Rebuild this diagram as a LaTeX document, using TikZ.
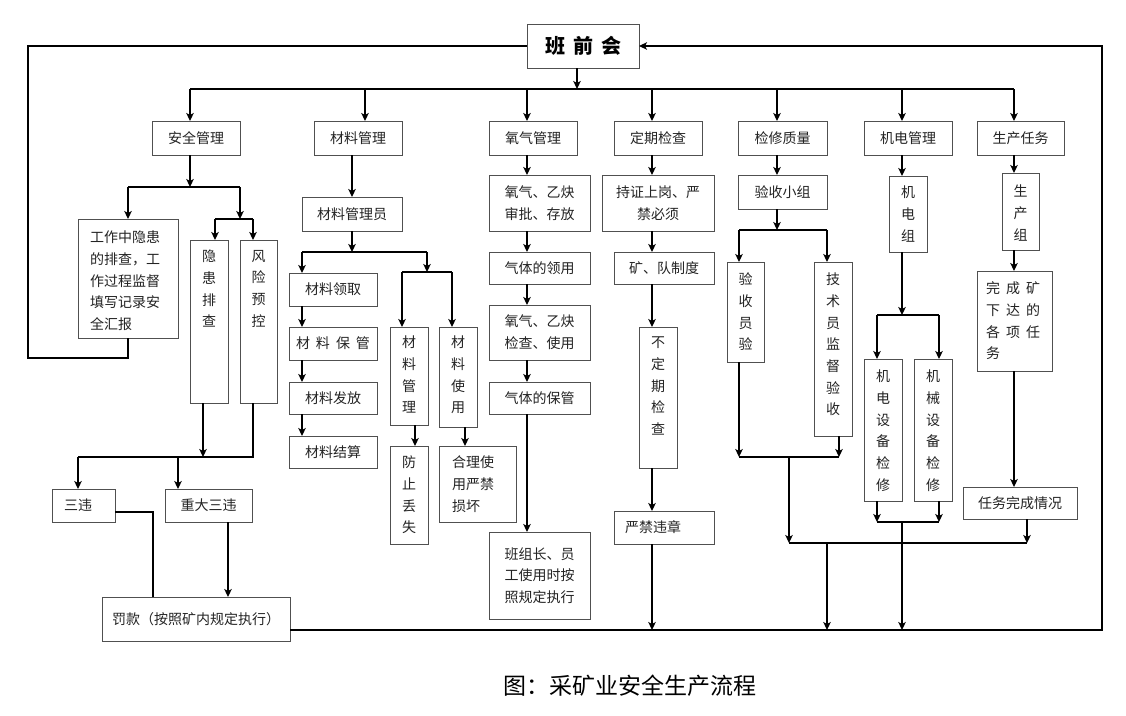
\documentclass[tikz,border=0pt]{standalone}
\usepackage{fontspec}
\setmainfont{Noto Sans CJK SC}
\newfontfamily\cjk{Noto Sans CJK SC}
\usetikzlibrary{arrows.meta}
\definecolor{bord}{RGB}{80,80,80}
\definecolor{txt}{RGB}{35,35,35}
\tikzset{
  box/.style={draw=bord, line width=0.9pt, inner sep=0pt, outer sep=0pt, anchor=north west, text=txt, font=\cjk\fontsize{14}{21.7}\selectfont},
  ln/.style={line width=1.2pt, draw=black},
  arr/.style={ln, -{Stealth[length=8pt,width=7.5pt,inset=2pt]}},
}
% centred text box
\newcommand\BX[7][]{\node[box, align=center, minimum width={#5pt-#3pt}, minimum height={#6pt-#4pt}, #1] (#2) at (#3,#4) {#7};}
% top aligned, centred (vertical text)
\newcommand\VX[8][]{\node[box, #1] (#2) at (#3,#4) {\parbox[c][\dimexpr#6pt-#4pt\relax][t]{\dimexpr#5pt-#3pt\relax}{\centering\vspace*{#7pt}#8\par}};}
% top aligned, left aligned
\newcommand\LX[9][]{\node[box, #1] (#2) at (#3,#4) {\parbox[c][\dimexpr#6pt-#4pt\relax][t]{\dimexpr#5pt-#3pt\relax}{\raggedright\leftskip=#8pt\relax\vspace*{#7pt}#9\par}};}

\begin{document}
\begin{tikzpicture}[x=1pt,y=-1pt]
\useasboundingbox[fill=white] (0,0) rectangle (1126,715);

% ---------- boxes ----------
\BX[font=\cjk\bfseries\fontsize{20}{20}\selectfont, text=black]{bqh}{527}{24}{639}{68}{班\hspace{8pt}前\hspace{8pt}会}

\BX{aq}{152}{121}{240}{155}{安全管理}
\BX{cl}{314}{121}{402}{155}{材料管理}
\BX{yq}{489}{121}{577}{155}{氧气管理}
\BX{dq}{614}{121}{702}{155}{定期检查}
\BX{jx}{738}{121}{827}{155}{检修质量}
\BX{jd}{864}{121}{952}{155}{机电管理}
\BX{sc}{977}{121}{1064}{155}{生产任务}

% safety
\LX{gz}{78}{219}{178}{338}{12}{12}{工作中隐患\\的排查，工\\作过程监督\\填写记录安\\全汇报}
\VX{yh}{190}{240}{228}{403}{10}{隐\\患\\排\\查}
\VX{fx}{240}{240}{277}{403}{10}{风\\险\\预\\控}
\LX{sw}{52}{489}{115}{522}{9.5}{12}{三违}
\BX{zd}{165}{489}{252}{522}{重大三违}
\BX{fk}{102}{597}{290}{641}{罚款（按照矿内规定执行）}

% material
\BX{cly}{302}{197}{402}{231}{材料管理员}
\BX{cl1}{289}{273}{377}{306}{材料领取}
\BX{cl2}{289}{327}{377}{360}{材\hspace{6pt}料\hspace{6pt}保\hspace{6pt}管}
\BX{cl3}{289}{382}{377}{414}{材料发放}
\BX{cl4}{289}{436}{377}{468}{材料结算}
\VX{clg}{390}{327}{428}{425}{9}{材\\料\\管\\理}
\VX{cls}{439}{327}{477}{427}{9}{材\\料\\使\\用}
\VX{fz}{390}{446}{428}{544}{10}{防\\止\\丢\\失}
\LX{hl}{439}{446}{516}{522}{10}{13}{合理使\\用严禁\\损坏}

% oxygen
\BX{yq1}{489}{175}{590}{231}{氧气、乙炔\\审批、存放}
\BX{yq2}{489}{252}{590}{284}{气体的领用}
\BX{yq3}{489}{305}{590}{360}{氧气、乙炔\\检查、使用}
\BX{yq4}{489}{382}{590}{414}{气体的保管}
\BX{bz}{489}{532}{590}{619}{班组长、员\\工使用时按\\照规定执行}

% periodic check
\BX{dq1}{602}{175}{714}{231}{持证上岗、严\\禁必须}
\BX{dq2}{614}{252}{714}{284}{矿、队制度}
\VX{bd}{639}{327}{677}{468}{10}{不\\定\\期\\检\\查}
\LX{yj}{614}{511}{714}{544}{9.5}{11}{严禁违章}

% maintenance
\BX{ys}{738}{175}{827}{209}{验收小组}
\VX{yy}{727}{262}{764}{362}{11}{验\\收\\员\\验}
\VX{js}{814}{262}{852}{436}{11}{技\\术\\员\\监\\督\\验\\收}

% electromechanical
\VX{jdz}{889}{176}{927}{252}{10}{机\\电\\组}
\VX{jd1}{864}{359}{902}{501}{11}{机\\电\\设\\备\\检\\修}
\VX{jd2}{914}{359}{952}{501}{11}{机\\械\\设\\备\\检\\修}

% production
\VX{scz}{1002}{173}{1039}{250}{12}{生\\产\\组}
\LX{wc}{977}{271}{1052}{371}{11}{9}{完\hspace{6pt}成\hspace{6pt}矿\\下\hspace{6pt}达\hspace{6pt}的\\各\hspace{6pt}项\hspace{6pt}任\\务}
\BX{rw}{963}{487}{1077}{519}{任务完成情况}

% caption
\node[font=\cjk\fontsize{23}{23}\selectfont, text=black] (cap) at (630,686) {图：采矿业安全生产流程};

% ---------- junction coordinates ----------
\coordinate (bq) at (577,89);
\coordinate (d1) at (190,89);  \coordinate (d2) at (365,89);
\coordinate (d3) at (527,89);  \coordinate (d4) at (652,89);
\coordinate (d5) at (777,89);  \coordinate (d6) at (902,89);
\coordinate (d7) at (1014,89);
\coordinate (L1) at (28,46); \coordinate (L2) at (28,358); \coordinate (L3) at (128,358);
\coordinate (R1) at (1102,630); \coordinate (R2) at (1102,46);

\coordinate (a0) at (190,187); \coordinate (a1) at (128,187); \coordinate (a2) at (240,187);
\coordinate (a3) at (240,219); \coordinate (a4) at (215,219); \coordinate (a5) at (253,219);
\coordinate (a6) at (203,457); \coordinate (a7) at (253,457); \coordinate (a8) at (78,457);
\coordinate (a9) at (178,457); \coordinate (a10) at (153,512); \coordinate (a11) at (228,597);

\coordinate (m0) at (352,197); \coordinate (m1) at (352,252);
\coordinate (m2) at (302,252); \coordinate (m3) at (427,252);
\coordinate (m4) at (427,272); \coordinate (m5) at (402,272); \coordinate (m6) at (452,272);
\coordinate (m7) at (415,446); \coordinate (m8) at (465,446);

\coordinate (o) at (527,0); \coordinate (p) at (652,0);

\coordinate (q) at (777,0); \coordinate (q1) at (777,230);
\coordinate (q2) at (739,230); \coordinate (q3) at (827,230);
\coordinate (q4) at (739,457); \coordinate (q5) at (839,457);
\coordinate (q6) at (789,457); \coordinate (q7) at (789,543);
\coordinate (q8) at (1027,543); \coordinate (q9) at (827,543);

\coordinate (e) at (902,0); \coordinate (e1) at (902,315);
\coordinate (e2) at (877,315); \coordinate (e3) at (939,315);
\coordinate (e4) at (877,522); \coordinate (e5) at (939,522); \coordinate (e6) at (902,522);

\coordinate (s) at (1014,0);

% ---------- connectors ----------
% top
\draw[arr] (bq |- bqh.south) -- (bq);
\draw[ln] (d1) -- (d7);
\draw[arr] (d1) -- (d1 |- aq.north);
\draw[arr] (d2) -- (d2 |- cl.north);
\draw[arr] (d3) -- (d3 |- yq.north);
\draw[arr] (d4) -- (d4 |- dq.north);
\draw[arr] (d5) -- (d5 |- jx.north);
\draw[arr] (d6) -- (d6 |- jd.north);
\draw[arr] (d7) -- (d7 |- sc.north);

% outer loop
\draw[ln] (L3 |- gz.south) -- (L3) -- (L2) -- (L1) -- (bqh.west);
\draw[arr] (R1 -| fk.east) -- (R1) -- (R2) -- (bqh.east);

% safety
\draw[arr] (a0 |- aq.south) -- (a0);
\draw[ln] (a1) -- (a2);
\draw[arr] (a1) -- (a1 |- gz.north);
\draw[arr] (a2) -- (a3);
\draw[ln] (a4) -- (a5);
\draw[arr] (a4) -- (a4 |- yh.north);
\draw[arr] (a5) -- (a5 |- fx.north);
\draw[arr] (a6 |- yh.south) -- (a6);
\draw[ln] (a7 |- fx.south) -- (a7) -- (a8);
\draw[arr] (a8) -- (a8 |- sw.north);
\draw[arr] (a9) -- (a9 |- zd.north);
\draw[ln] (a10 -| sw.east) -- (a10) -- (a10 |- fk.north);
\draw[arr] (a11 |- zd.south) -- (a11 |- fk.north);

% material
\draw[arr] (m0 |- cl.south) -- (m0 |- cly.north);
\draw[arr] (m1 |- cly.south) -- (m1);
\draw[ln] (m2) -- (m3);
\draw[arr] (m2) -- (m2 |- cl1.north);
\draw[arr] (m2 |- cl1.south) -- (m2 |- cl2.north);
\draw[arr] (m2 |- cl2.south) -- (m2 |- cl3.north);
\draw[arr] (m2 |- cl3.south) -- (m2 |- cl4.north);
\draw[arr] (m3) -- (m4);
\draw[ln] (m5) -- (m6);
\draw[arr] (m5) -- (m5 |- clg.north);
\draw[arr] (m6) -- (m6 |- cls.north);
\draw[arr] (m7 |- clg.south) -- (m7 |- fz.north);
\draw[arr] (m8 |- cls.south) -- (m8 |- hl.north);

% oxygen
\draw[arr] (o |- yq.south) -- (o |- yq1.north);
\draw[arr] (o |- yq1.south) -- (o |- yq2.north);
\draw[arr] (o |- yq2.south) -- (o |- yq3.north);
\draw[arr] (o |- yq3.south) -- (o |- yq4.north);
\draw[arr] (o |- yq4.south) -- (o |- bz.north);

% periodic
\draw[arr] (p |- dq.south) -- (p |- dq1.north);
\draw[arr] (p |- dq1.south) -- (p |- dq2.north);
\draw[arr] (p |- dq2.south) -- (p |- bd.north);
\draw[arr] (p |- bd.south) -- (p |- yj.north);
\draw[arr] (p |- yj.south) -- (p |- R1);

% maintenance
\draw[arr] (q |- jx.south) -- (q |- ys.north);
\draw[arr] (q |- ys.south) -- (q1);
\draw[ln] (q2) -- (q3);
\draw[arr] (q2) -- (q2 |- yy.north);
\draw[arr] (q3) -- (q3 |- js.north);
\draw[arr] (q4 |- yy.south) -- (q4);
\draw[arr] (q5 |- js.south) -- (q5);
\draw[ln] (q4) -- (q5);
\draw[arr] (q6) -- (q7);
\draw[ln] (q7) -- (q8);
\draw[arr] (q9) -- (q9 |- R1);

% electromechanical
\draw[arr] (e |- jd.south) -- (e |- jdz.north);
\draw[arr] (e |- jdz.south) -- (e1);
\draw[ln] (e2) -- (e3);
\draw[arr] (e2) -- (e2 |- jd1.north);
\draw[arr] (e3) -- (e3 |- jd2.north);
\draw[arr] (e4 |- jd1.south) -- (e4);
\draw[arr] (e5 |- jd2.south) -- (e5);
\draw[ln] (e4) -- (e5);
\draw[arr] (e6) -- (e6 |- R1);

% production
\draw[arr] (s |- sc.south) -- (s |- scz.north);
\draw[arr] (s |- scz.south) -- (s |- wc.north);
\draw[arr] (s |- wc.south) -- (s |- rw.north);
\draw[arr] (q8 |- rw.south) -- (q8);
\end{tikzpicture}
\end{document}
